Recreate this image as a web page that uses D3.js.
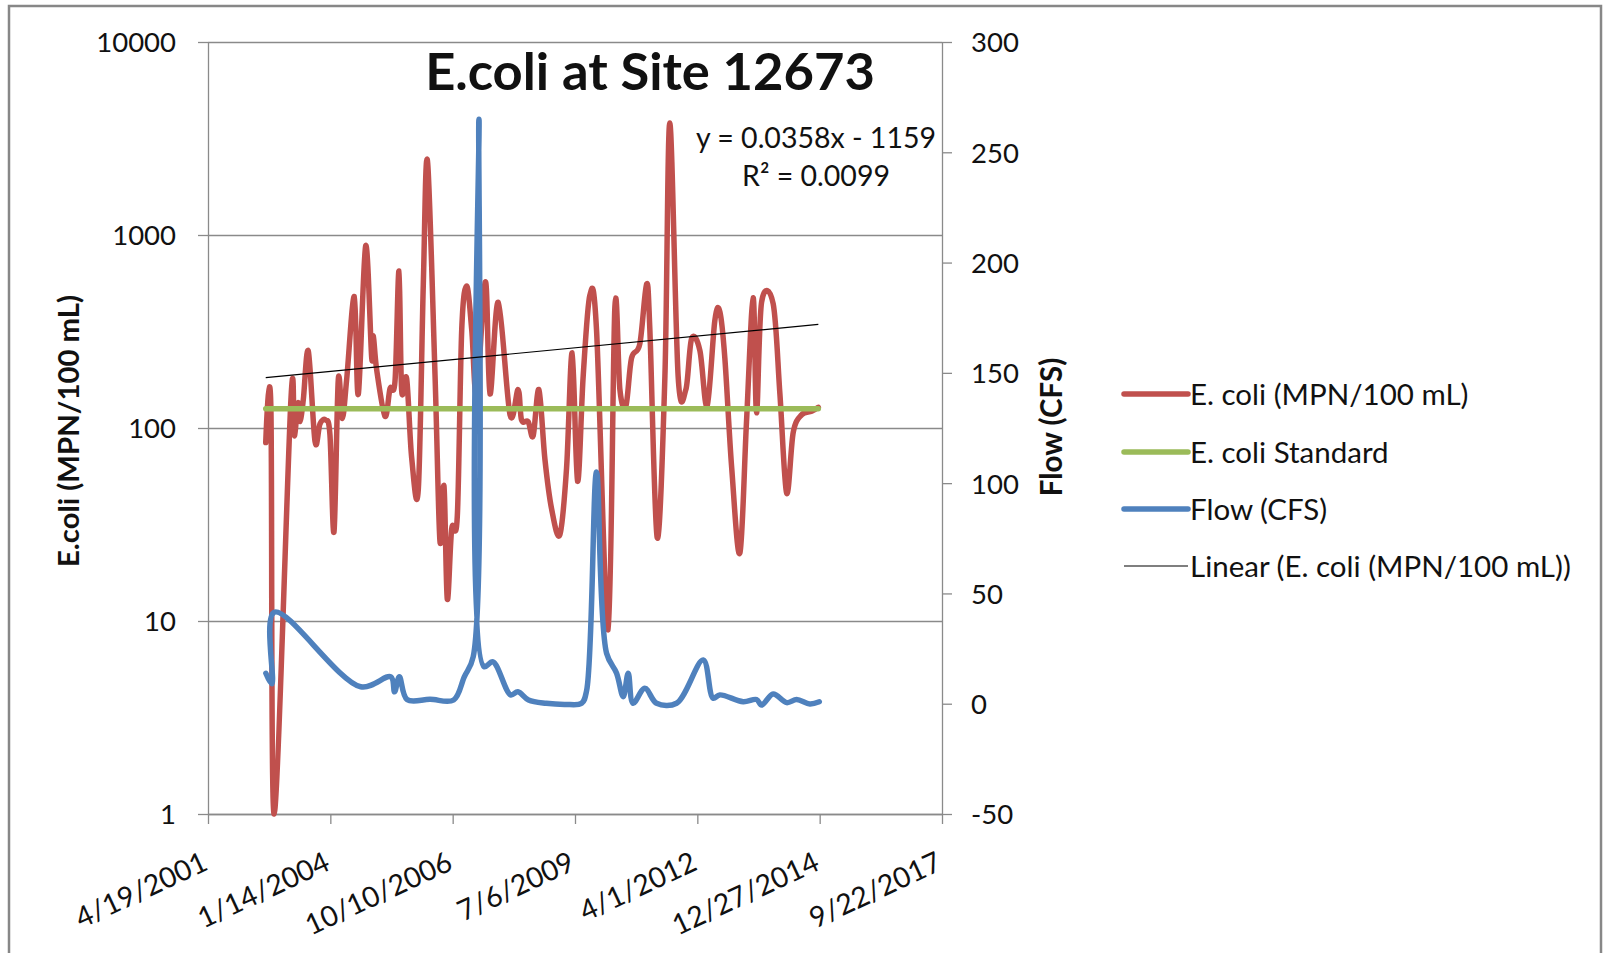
<!DOCTYPE html>
<html><head><meta charset="utf-8">
<script src="https://cdn.jsdelivr.net/npm/d3@7"></script>
<style>
body{margin:0;background:#fff}
svg{display:block}
text{font-family:Lato,"Open Sans",sans-serif;fill:#111}
</style>
</head><body>
<svg id="c" width="1606" height="953"></svg>
<script>
// ---------------- DATA ----------------
const chartTitle = "E.coli at Site 12673";
const leftAxisTitle = "E.coli (MPN/100 mL)";
const rightAxisTitle = "Flow (CFS)";

const xTickDates  = ["2001-04-19","2004-01-14","2006-10-10","2009-07-06","2012-04-01","2014-12-27","2017-09-22"];
const xTickLabels = ["4/19/2001","1/14/2004","10/10/2006","7/6/2009","4/1/2012","12/27/2014","9/22/2017"];
const leftTicks  = [1, 10, 100, 1000, 10000];
const rightTicks = [-50, 0, 50, 100, 150, 200, 250, 300];

const ecoliDates = ["2002-08-04","2002-09-15","2002-10-12","2003-02-26","2003-03-25","2003-04-25","2003-05-11","2003-06-07","2003-07-18","2003-09-11","2003-10-21","2003-12-07",
 "2004-01-11","2004-02-13","2004-03-19","2004-04-21","2004-05-27","2004-07-28","2004-08-30","2004-10-29","2004-12-17","2004-12-30",
 "2005-01-27","2005-04-05","2005-05-16","2005-06-26","2005-07-28","2005-08-19","2005-09-29","2005-11-09",
 "2006-01-02","2006-02-12","2006-03-18","2006-05-19","2006-06-28","2006-07-31","2006-08-27","2006-10-02","2006-11-17","2006-12-23",
 "2007-02-02","2007-03-15","2007-04-24","2007-07-05","2007-08-11","2007-10-18",
 "2008-01-22","2008-03-28","2008-04-25","2008-06-18","2008-07-29","2008-09-14","2008-11-02","2008-12-27",
 "2009-03-04","2009-04-28","2009-06-13","2009-07-27","2009-09-11","2009-11-04","2009-12-29",
 "2010-04-03","2010-05-28","2010-07-08","2010-08-26","2010-10-11","2010-12-18",
 "2011-02-11","2011-03-10","2011-05-09","2011-07-11","2011-08-20","2011-10-27","2011-12-29",
 "2012-02-14","2012-04-22","2012-06-20","2012-08-22","2012-10-02","2012-11-12",
 "2013-01-07","2013-03-15","2013-05-08","2013-07-01","2013-07-29","2013-09-08","2013-12-12",
 "2014-02-05","2014-04-01","2014-05-25","2014-08-01","2014-10-22","2014-12-16"];
const ecoliValues = [84,128,1,141,91,135,108,140,250,85,105,110,
 92,29,178,112,180,480,150,880,232,300,
 200,115,160,176,650,157,180,70,
 48,557,2420,186,26,50,13,30,35,322,
 544,322,150,573,150,448,
 117,158,110,108,91,158,69,38,
 28,62,245,53,186,486,322,
 9,424,158,130,230,273,
 557,322,27,186,3800,186,158,
 290,252,130,360,401,230,
 62,22.5,108,473,120,448,440,
 150,46,95,117,122,128];

const ecoliStandard = 126;

const flowDates = ["2002-08-05","2002-09-23","2002-10-12","2004-09-18","2005-05-23","2005-06-22","2005-07-31","2005-10-02","2006-04-08","2006-10-18",
 "2007-01-13","2007-03-27","2007-05-13","2007-06-23","2007-09-04","2008-01-27","2008-03-26","2008-06-21","2008-11-13",
 "2009-04-15","2009-08-29","2009-10-09","2009-12-29","2010-03-21","2010-06-11","2010-08-04","2010-09-14","2010-10-24",
 "2011-01-28","2011-05-04","2011-10-14","2012-05-19","2012-08-08","2012-10-02","2013-04-11","2013-07-29","2013-09-08","2013-12-12",
 "2014-04-01","2014-06-22","2014-10-08","2014-12-24"];
const flowValues = [13.8,9,41.5,7.7,12.2,5.4,12.2,1.9,2.0,1.7,
 12.2,21.3,265,16.8,19,4,5.4,1.7,0.2,
 -0.3,0.2,6,105,22.9,13.8,3.2,13.8,0.2,
 7,0.2,0.2,19.8,2.5,4,0.9,1.9,-0.6,4.4,
 0.5,1.9,-0.1,0.9];

// trendline as shown on chart: y = 0.0358x - 1159 (x = Excel date serial)
const trendSlope = 0.0358, trendIntercept = -1159;
const trendText = ["y = 0.0358x - 1159", "R² = 0.0099"];

const legendLabels = ["E. coli (MPN/100 mL)", "E. coli Standard", "Flow (CFS)", "Linear (E. coli (MPN/100 mL))"];

// ---------------- CHART ----------------
const colors = {ecoli:"#C0504D", std:"#9BBB59", flow:"#4F81BD", trend:"#000", grid:"#8a8a8a"};
const parse = d3.utcParse("%Y-%m-%d");
const P = {left:208, right:942, top:42, bottom:814};

const svg = d3.select("#c");
svg.append("rect").attr("width",1606).attr("height",953).attr("fill","#fff");
svg.append("rect").attr("x",9).attr("y",6).attr("width",1592).attr("height",980)
  .attr("fill","none").attr("stroke","#878787").attr("stroke-width",2.5);

const x = d3.scaleUtc().domain([parse(xTickDates[0]), parse(xTickDates[xTickDates.length-1])]).range([P.left,P.right]);
const yL = d3.scaleLog().domain([1,10000]).range([P.bottom,P.top]);
const yR = d3.scaleLinear().domain([-50,300]).range([P.bottom,P.top]);

// gridlines
const grid = svg.append("g").attr("transform",`translate(${P.left},0)`)
  .call(d3.axisLeft(yL).tickValues(leftTicks).tickSize(-(P.right-P.left)).tickFormat(""));
grid.select(".domain").remove();
grid.selectAll("line").attr("stroke",colors.grid).attr("stroke-width",1.3);

const plain = d => String(d);
// left axis
const gL = svg.append("g").attr("transform",`translate(${P.left},0)`)
  .call(d3.axisLeft(yL).tickValues(leftTicks).tickSize(10).tickSizeOuter(0).tickPadding(22).tickFormat(plain));
// right axis
const gR = svg.append("g").attr("transform",`translate(${P.right},0)`)
  .call(d3.axisRight(yR).tickValues(rightTicks).tickSize(10).tickSizeOuter(0).tickPadding(19).tickFormat(plain));
// bottom axis
const gB = svg.append("g").attr("transform",`translate(0,${P.bottom})`)
  .call(d3.axisBottom(x).tickValues(xTickDates.map(parse)).tickSize(10).tickSizeOuter(0).tickFormat((d,i)=>xTickLabels[i]));

[gL,gR,gB].forEach(g=>{
  g.select(".domain").attr("stroke",colors.grid).attr("stroke-width",1.3);
  g.selectAll(".tick line").attr("stroke",colors.grid).attr("stroke-width",1.3);
  g.selectAll("text").attr("font-family","Lato").attr("font-size",27.5).attr("fill","#111");
});
gL.selectAll("text").attr("dy","0.36em");
gR.selectAll("text").attr("dy","0.36em");
gB.selectAll("text").attr("y",0).attr("dy",null).attr("x",0).attr("font-size",28.5)
  .attr("text-anchor","end").attr("transform","translate(1,55) rotate(-25)");

// series
const ecoli = ecoliDates.map((d,i)=>({date:parse(d), v:ecoliValues[i]}));
const flow  = flowDates.map((d,i)=>({date:parse(d), v:flowValues[i]}));

const lineE = d3.line().x(d=>x(d.date)).y(d=>yL(d.v)).curve(d3.curveCardinal);
const lineF = d3.line().x(d=>x(d.date)).y(d=>yR(d.v)).curve(d3.curveCatmullRom.alpha(0.5));

svg.append("path").datum(ecoli).attr("d",lineE).attr("fill","none")
  .attr("stroke",colors.ecoli).attr("stroke-width",5.5).attr("stroke-linejoin","round").attr("stroke-linecap","round");

const stdData = [{date:ecoli[0].date, v:ecoliStandard},{date:ecoli[ecoli.length-1].date, v:ecoliStandard}];
svg.append("path").datum(stdData).attr("d",d3.line().x(d=>x(d.date)).y(d=>yL(d.v)))
  .attr("fill","none").attr("stroke",colors.std).attr("stroke-width",5.5).attr("stroke-linecap","round");

svg.append("path").datum(flow).attr("d",lineF).attr("fill","none")
  .attr("stroke",colors.flow).attr("stroke-width",5.5).attr("stroke-linejoin","round").attr("stroke-linecap","round");

const serial = d => d.getTime()/86400000 + 25569;
const trendData = [ecoli[0].date, ecoli[ecoli.length-1].date].map(d=>({date:d, v:trendSlope*serial(d)+trendIntercept}));
svg.append("path").datum(trendData).attr("d",d3.line().x(d=>x(d.date)).y(d=>yL(d.v)))
  .attr("fill","none").attr("stroke",colors.trend).attr("stroke-width",1.2);

// title
svg.append("text").attr("x",650).attr("y",90).attr("text-anchor","middle")
  .attr("font-size",52.5).attr("font-weight","bold").attr("fill","#000").text(chartTitle);

// trend equation
svg.append("text").attr("x",816).attr("y",148).attr("text-anchor","middle").attr("font-size",28.5).text(trendText[0]);
svg.append("text").attr("x",816).attr("y",186).attr("text-anchor","middle").attr("font-size",28.5).text(trendText[1]);

// axis titles
svg.append("text").attr("transform","translate(79,431) rotate(-90)").attr("text-anchor","middle")
  .attr("font-size",29.3).attr("font-weight","bold").attr("fill","#000").text(leftAxisTitle);
svg.append("text").attr("transform","translate(1062,427) rotate(-90)").attr("text-anchor","middle")
  .attr("font-size",29.5).attr("font-weight","bold").attr("fill","#000").text(rightAxisTitle);

// legend
const legY = [394, 452, 509, 566];
const legStyles = [
  {c:colors.ecoli, w:5.5}, {c:colors.std, w:5.5}, {c:colors.flow, w:5.5}, {c:colors.trend, w:1.2}
];
const leg = svg.append("g");
legendLabels.forEach((lab,i)=>{
  leg.append("line").attr("x1",1124).attr("x2",1188).attr("y1",legY[i]).attr("y2",legY[i])
    .attr("stroke",legStyles[i].c).attr("stroke-width",legStyles[i].w).attr("stroke-linecap", i<3?"round":"butt");
  leg.append("text").attr("x",1190).attr("y",legY[i]).attr("dy","0.36em").attr("font-size",29.5).text(lab);
});
</script>
</body></html>
